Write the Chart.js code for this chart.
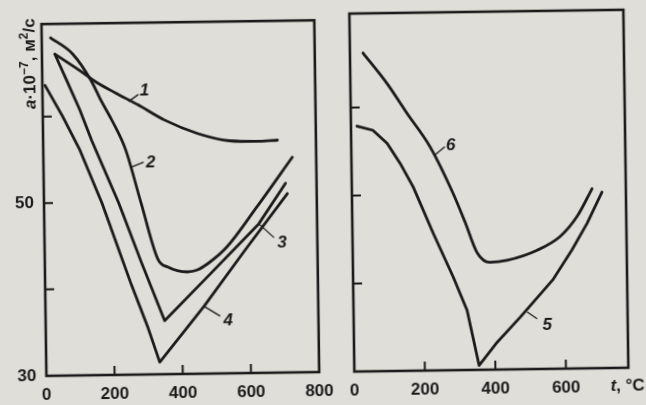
<!DOCTYPE html>
<html>
<head>
<meta charset="utf-8">
<script src="https://cdn.jsdelivr.net/npm/chart.js@4.4.1/dist/chart.umd.min.js"></script>
<style>
  html, body { margin: 0; padding: 0; background: #e0ded8; overflow: hidden; }
  #sheet { position: relative; width: 646px; height: 405px; transform: rotate(-0.8deg); transform-origin: 323px 202px; }
  #leftChart { position: absolute; left: 0; top: 0; }
  #rightChart { position: absolute; left: 330px; top: 0; }
</style>
</head>
<body>
<div id="sheet">
  <canvas id="leftChart" width="340" height="405"></canvas>
  <canvas id="rightChart" width="316" height="405"></canvas>
</div>
<script>
// thermal diffusivity a·10^-7, m²/s versus temperature t, °C

const leftTicksX = [0, 200, 400, 600, 800];
const rightTicksX = [0, 200, 400, 600];
const leftTicksY = [30, 50];
const tickMarksX = [200, 400, 600];
const tickMarksY = [40, 50, 60];

// left panel, curves 1-4
const t1 = [38, 109, 158, 215, 280, 357, 453, 547, 624, 687];
const a1 = [67.2, 65.3, 63.9, 62.6, 61.2, 59.4, 57.8, 56.9, 56.8, 56.9];

const t2 = [26, 90, 143, 171, 202, 241, 285, 332, 360, 417, 446, 484, 534, 622, 730];
const a2 = [69.1, 67.2, 64.1, 61.8, 59.5, 56.1, 49.8, 43.3, 42.4, 41.8, 42.0, 42.9, 44.6, 49.1, 54.9];

const t3 = [38, 71, 108, 143, 219, 283, 349, 489, 629, 709];
const a3 = [67.2, 64.2, 60.8, 57.1, 49.9, 43.0, 36.2, 41.7, 47.25, 51.9];

const t4 = [8, 58, 106, 170, 253, 300, 333, 465, 591, 714];
const a4 = [63.6, 60.0, 56.2, 49.9, 40.4, 35.4, 31.4, 37.8, 44.4, 50.7];

// right panel, curves 5-6
const t5 = [17, 62, 102, 138, 174, 229, 284, 322, 354, 406, 472, 566, 622, 666, 709];
const a5 = [57.9, 57.4, 55.9, 53.6, 50.9, 45.6, 40.6, 36.8, 30.5, 33.1, 35.9, 40.1, 43.5, 46.5, 50.0];

const t6 = [37, 104, 159, 224, 287, 320, 353, 389, 437, 523, 588, 638, 681];
const a6 = [66.2, 62.7, 59.3, 55.4, 50.1, 46.8, 43.3, 42.2, 42.4, 43.5, 45.0, 47.3, 50.4];

// curve numbers: point on the curve where the leader starts
const leftMarks = [
  { text: '1', x: 252, y: 61.6, lead: [10, -7], off: [16, -11] },
  { text: '2', x: 256, y: 54.0, lead: [13, -5], off: [20, -4] },
  { text: '3', x: 629, y: 47.25, lead: [15, 14], off: [23, 19] },
  { text: '4', x: 465, y: 37.8, lead: [16, 10], off: [24, 15] }
];
const rightMarks = [
  { text: '6', x: 237, y: 54.5, lead: [10, -8], off: [16, -9] },
  { text: '5', x: 492, y: 36.5, lead: [10, 7], off: [20, 13] }
];

const INK = '#1b1b1b';
const FONT = '"Liberation Sans", "DejaVu Sans", sans-serif';

function series(ts, as, smooth) {
  return {
    data: ts.map((t, i) => ({ x: t, y: as[i] })),
    borderColor: INK,
    borderWidth: 2.8,
    pointRadius: 0,
    fill: false,
    tension: 0,
    cubicInterpolationMode: smooth ? 'monotone' : 'default',
    borderCapStyle: 'round',
    borderJoinStyle: 'round'
  };
}

function drawRuns(ctx, runs, size) {
  let x = 0;
  runs.forEach(r => {
    const s = r.sup ? Math.round(size * 0.68) : size;
    ctx.font = (r.italic ? 'italic ' : '') + 'bold ' + s + 'px ' + FONT;
    ctx.fillText(r.t, x, r.sup ? -size * 0.42 : 0);
    x += ctx.measureText(r.t).width;
  });
  return x;
}

function makeDecor(marks, extra) {
  return {
    id: 'decor',
    afterDatasetsDraw(chart) {
      const { ctx, chartArea: a, scales: { x, y } } = chart;
      ctx.save();
      ctx.strokeStyle = INK;
      ctx.fillStyle = INK;
      ctx.lineWidth = 2.6;
      ctx.strokeRect(a.left, a.top, a.right - a.left, a.bottom - a.top);

      ctx.lineWidth = 2;
      ctx.beginPath();
      tickMarksX.forEach(v => {
        const px = x.getPixelForValue(v);
        ctx.moveTo(px, a.bottom);
        ctx.lineTo(px, a.bottom - 9);
      });
      tickMarksY.forEach(v => {
        const py = y.getPixelForValue(v);
        ctx.moveTo(a.left, py);
        ctx.lineTo(a.left + 9, py);
      });
      ctx.stroke();

      ctx.lineWidth = 1.3;
      ctx.font = 'italic bold 17px ' + FONT;
      ctx.textAlign = 'center';
      ctx.textBaseline = 'middle';
      marks.forEach(m => {
        const px = x.getPixelForValue(m.x);
        const py = y.getPixelForValue(m.y);
        ctx.beginPath();
        ctx.moveTo(px, py);
        ctx.lineTo(px + m.lead[0], py + m.lead[1]);
        ctx.stroke();
        ctx.fillText(m.text, px + m.off[0], py + m.off[1]);
      });

      if (extra) extra(ctx, chart);
      ctx.restore();
    }
  };
}

function yTitle(ctx) {
  ctx.save();
  ctx.translate(37, 105);
  ctx.rotate(-Math.PI / 2);
  ctx.textAlign = 'left';
  ctx.textBaseline = 'alphabetic';
  drawRuns(ctx, [
    { t: 'a', italic: true },
    { t: '·10' },
    { t: '−7', sup: true },
    { t: ', м' },
    { t: '2', sup: true },
    { t: '/с' }
  ], 17);
  ctx.restore();
}

function xTitle(ctx) {
  ctx.save();
  ctx.textAlign = 'left';
  ctx.textBaseline = 'middle';
  ctx.font = 'bold 17px ' + FONT;
  const w = ctx.measureText('t, °C').width;
  ctx.translate(295 - w / 2, 390);
  drawRuns(ctx, [{ t: 't', italic: true }, { t: ', °C' }], 17);
  ctx.restore();
}

function options(xMax, xTicks, yTicks, pad, axisH) {
  const tickFont = { family: FONT, size: 17, weight: 'bold' };
  return {
    responsive: false,
    animation: false,
    layout: { padding: pad },
    plugins: { legend: { display: false }, tooltip: { enabled: false } },
    scales: {
      x: {
        type: 'linear',
        min: 0,
        max: xMax,
        grid: { display: false, drawTicks: false },
        border: { display: false },
        afterBuildTicks: s => { s.ticks = xTicks.map(v => ({ value: v })); },
        afterFit: s => { s.height = axisH; },
        ticks: { padding: 9, color: INK, font: tickFont, maxRotation: 0, autoSkip: false }
      },
      y: {
        type: 'linear',
        min: 30,
        max: 70.7,
        display: yTicks.length > 0,
        grid: { display: false, drawTicks: false },
        border: { display: false },
        afterBuildTicks: s => { s.ticks = yTicks.map(v => ({ value: v })); },
        afterFit: s => { s.width = yTicks.length ? 44 : 0; },
        ticks: { padding: 10, color: INK, font: tickFont }
      }
    }
  };
}

new Chart(document.getElementById('leftChart'), {
  type: 'line',
  data: {
    datasets: [
      series(t1, a1, true),
      series(t2, a2, true),
      series(t3, a3, false),
      series(t4, a4, false)
    ]
  },
  options: options(800, leftTicksX, leftTicksY, { top: 14, right: 18, left: 0, bottom: 0 }, 33),
  plugins: [makeDecor(leftMarks, yTitle)]
});

new Chart(document.getElementById('rightChart'), {
  type: 'line',
  data: {
    datasets: [
      series(t5, a5, false),
      series(t6, a6, true)
    ]
  },
  options: options(777, rightTicksX, [], { top: 14, right: 20, left: 22, bottom: 0 }, 33),
  plugins: [makeDecor(rightMarks, xTitle)]
});
</script>
</body>
</html>
